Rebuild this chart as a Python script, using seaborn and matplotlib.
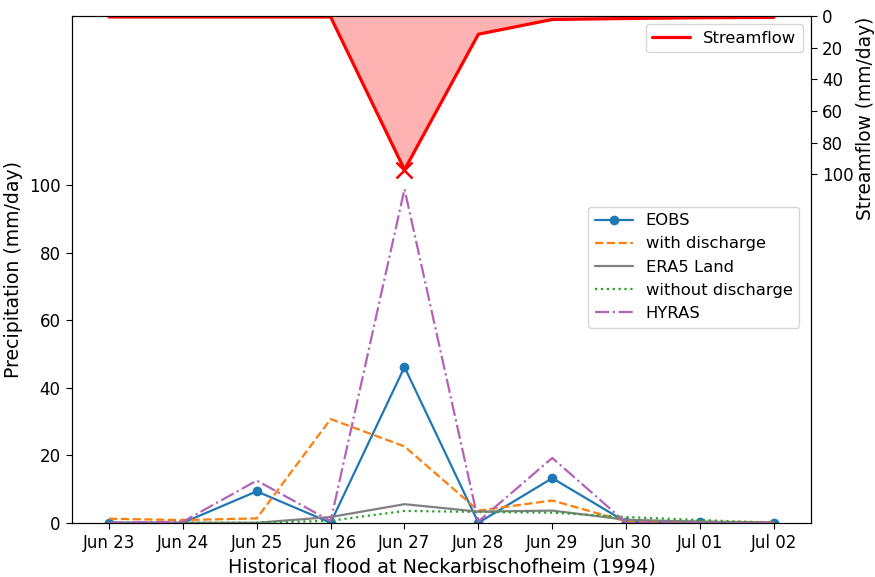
import numpy as np
import pandas as pd
import matplotlib
matplotlib.use("Agg")
import matplotlib.pyplot as plt
import matplotlib.dates as mdates
import seaborn as sns

# Daily series for the June 1994 flood event
dates = pd.date_range("1994-06-23", "1994-07-02", freq="D")

eobs = [0.0, 0.0, 9.3, 0.0, 46.1, 0.0, 13.2, 0.2, 0.3, 0.0]
with_discharge = [1.2, 0.8, 1.3, 30.7, 22.6, 3.6, 6.6, 0.4, 0.3, 0.2]
era5_land = [0.0, 0.0, 0.0, 1.7, 5.5, 3.3, 3.6, 0.9, 0.3, 0.0]
without_discharge = [0.0, 0.0, 0.0, 0.6, 3.5, 3.2, 3.0, 1.7, 0.8, 0.0]
hyras = [0.0, 0.3, 12.5, 0.5, 98.8, 0.4, 19.2, 0.0, 0.0, 0.0]

streamflow = [0.5, 0.5, 0.5, 0.5, 97.0, 11.4, 2.1, 1.5, 1.0, 0.8]

sns.set_style("ticks")
plt.rcParams.update({
    "font.family": ["DejaVu Sans"],
    "text.color": "black",
    "axes.labelcolor": "black",
    "axes.edgecolor": "black",
    "xtick.color": "black",
    "ytick.color": "black",
    "xtick.major.size": 4.5,
    "ytick.major.size": 4.5,
})

fig, ax = plt.subplots(figsize=(8.75, 5.77), dpi=100)
fig.subplots_adjust(left=0.082, right=0.927, top=0.972, bottom=0.094)

series = [
    ("EOBS", eobs, dict(color="#1f77b4", linestyle="-", marker="o", markersize=7)),
    ("with discharge", with_discharge, dict(color="#ff7f0e", linestyle="--")),
    ("ERA5 Land", era5_land, dict(color="gray", linestyle="-")),
    ("without discharge", without_discharge, dict(color="#2ca02c", linestyle=":")),
    ("HYRAS", hyras, dict(color="#b462b8", linestyle="-.")),
]
for name, vals, style in series:
    sns.lineplot(x=dates, y=vals, ax=ax, label=name, linewidth=1.6,
                 markeredgewidth=0, **style)

ax.set_ylim(0, 150)
ax.set_yticks(np.arange(0, 101, 20))
ax.set_ylabel("Precipitation (mm/day)", fontsize=13.6)
ax.set_xlabel("Historical flood at Neckarbischofheim (1994)", fontsize=13.8)
ax.xaxis.set_major_locator(mdates.DayLocator())
ax.xaxis.set_major_formatter(mdates.DateFormatter("%b %d"))
ax.tick_params(labelsize=12)
ax.legend(loc="upper right", bbox_to_anchor=(0.995, 0.64), fontsize=11.8,
          handlelength=2.3)

# Streamflow hydrograph on an inverted secondary axis
ax2 = ax.twinx()
ax2.fill_between(dates, 0, streamflow, color="red", alpha=0.3, linewidth=0)
sns.lineplot(x=dates, y=streamflow, ax=ax2, color="red", linewidth=2.3,
             label="Streamflow")
peak = int(np.argmax(streamflow))
ax2.plot(dates[peak], streamflow[peak], marker="x", color="red",
         markersize=11, markeredgewidth=1.8, linestyle="none")
ax2.set_ylim(320, 0)
ax2.set_yticks(np.arange(0, 101, 20))
ax2.set_ylabel("Streamflow (mm/day)", fontsize=13.4, loc="top", labelpad=1.5)
ax2.tick_params(labelsize=12)
ax2.legend(loc="upper right", fontsize=11.8, handlelength=2.3)

# Pad the date axis by roughly half a day on each side
ax2.margins(x=0.056)
ax.margins(x=0.056)
ax.autoscale_view()

fig.savefig("out.png", dpi=100)
